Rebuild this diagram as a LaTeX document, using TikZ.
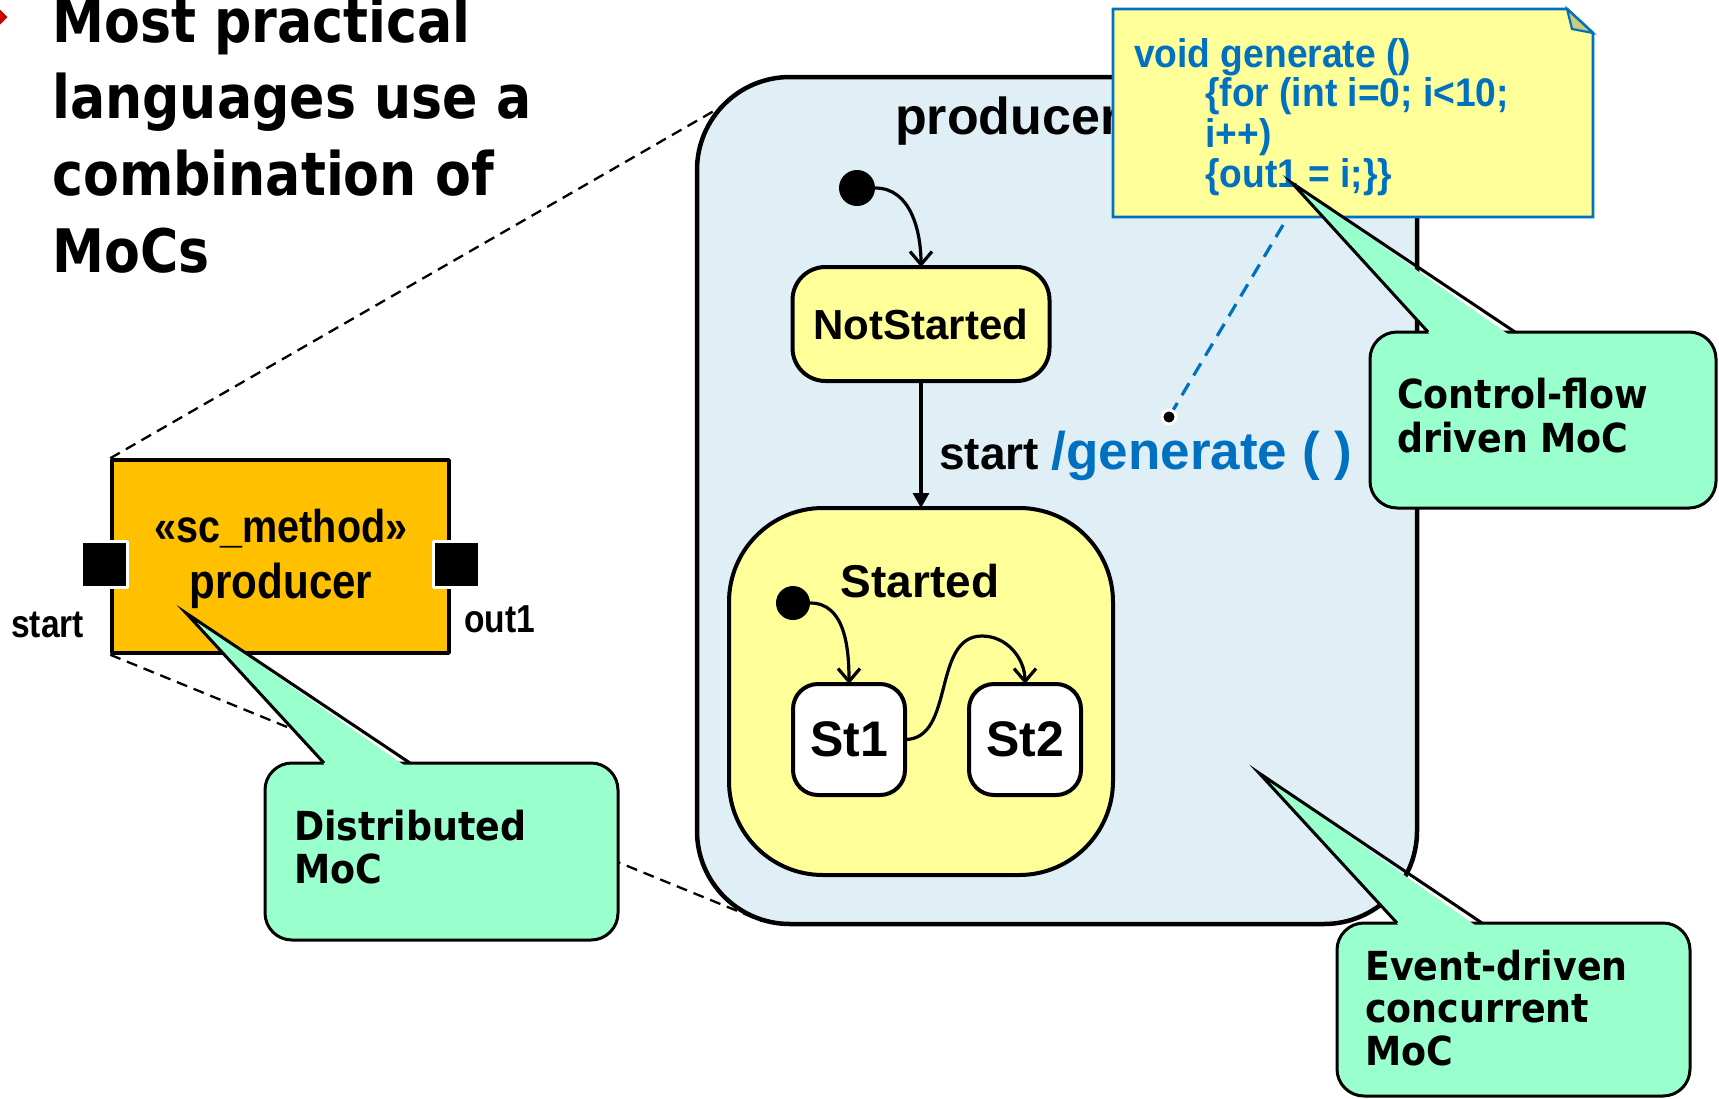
\documentclass[tikz,border=0pt]{standalone}
\usepackage{fontspec}
\setmainfont{Liberation Sans}
\newfontfamily\uifont{Liberation Sans}
\newfontfamily\uinarrow[FakeStretch=0.86]{Liberation Sans}
\newfontfamily\codefont[FakeStretch=0.93]{Liberation Sans}
\newfontfamily\handfont[FakeStretch=0.91]{DejaVu Sans}
\newfontfamily\headfont[FakeStretch=0.87]{DejaVu Sans}
\usetikzlibrary{arrows.meta}

\definecolor{boxorange}{RGB}{255,192,0}
\definecolor{pane}{RGB}{223,239,245}
\definecolor{stateyellow}{RGB}{255,255,153}
\definecolor{mint}{RGB}{153,255,204}
\definecolor{codeblue}{RGB}{0,112,192}
\definecolor{foldkhaki}{RGB}{204,204,122}
\definecolor{bulletred}{RGB}{204,0,0}

\tikzset{
  headtext/.style={anchor=base west, inner sep=0pt, font=\headfont\bfseries\fontsize{60}{72}\selectfont},
  handtext/.style={anchor=base west, inner sep=0pt, font=\handfont\bfseries\fontsize{40}{43}\selectfont},
  uitext/.style={inner sep=0pt, font=\uifont\bfseries\fontsize{#1}{#1}\selectfont},
  narrowtext/.style={inner sep=0pt, font=\uinarrow\bfseries\fontsize{#1}{#1}\selectfont},
  codetext/.style={anchor=base west, inner sep=0pt, text=codeblue, font=\codefont\bfseries\fontsize{40}{40}\selectfont},
  stbox/.style={draw=black, line width=4pt, fill=stateyellow, inner sep=0pt, outer sep=0pt},
  initdot/.style={circle, fill=black, inner sep=0pt, minimum size=#1},
  portsq/.style={fill=black, draw=white, line width=3pt, inner sep=0pt, minimum size=46pt},
  trans/.style={draw=black, line width=3.2pt},
  barb/.style={-{Straight Barb[length=13pt,width=22pt]}},
  solidtip/.style={-{Triangle[length=15pt,width=16pt]}},
  zoomline/.style={draw=black, line width=2.3pt, dash pattern=on 11pt off 7pt},
  calloutbox/.style={draw=black, line width=3pt, fill=mint, rounded corners=27pt, inner sep=0pt},
  calloutedge/.style={draw=black, line width=3pt, line join=miter},
}

\begin{document}
\begin{tikzpicture}[x=1pt, y=-1pt, line join=round]
\useasboundingbox (0,0) rectangle (1719,1098);
\clip (0,0) rectangle (1719,1098);
\fill[white] (0,0) rectangle (1719,1098);

% bullet and heading
\fill[bulletred] (-2,7.5) -- (7.5,17) -- (-2,26.5) -- (-11.5,17) -- cycle;
\node[headtext] (head1) at (52,42) {Most practical};
\node[headtext] (head2) at (52,118) {languages use a};
\node[headtext] (head3) at (52,195) {combination of};
\node[headtext] (head4) at (52,272) {MoCs};

% the sc_method block with its ports
\node[draw=black, line width=3.5pt, fill=boxorange, inner sep=0pt,
      minimum width=337pt, minimum height=193pt] (prodbox) at (280.5,556.5) {};
\node[portsq] (pstart) at (104,564) {};
\node[portsq] (pout) at (456,564) {};
\node[narrowtext=46, anchor=base] (stereo) at (281,542) {«sc\_method»};
\node[narrowtext=49, anchor=base] (prodname) at (281,598) {producer};
\node[narrowtext=39, anchor=base west] (startlbl) at (11,637) {start};
\node[narrowtext=39, anchor=base west] (outlbl) at (464,632) {out1};

% zoom lines towards the expanded view
\coordinate (zoomtop) at (733,100);
\coordinate (zoombot) at (762,921);
\draw[zoomline] (prodbox.north west) -- (zoomtop);
\draw[zoomline] (prodbox.south west) -- (zoombot);

% expanded producer state machine
\node[draw=black, line width=4.5pt, fill=pane, rounded corners=93pt, inner sep=0pt,
      minimum width=720pt, minimum height=847pt] (pane) at (1057,500.5) {};
\node[uitext=52, anchor=base west] (panetitle) at (895,134) {producer};

\node[initdot=36pt] (init1) at (857,188) {};
\node[stbox, rounded corners=33pt, minimum width=257pt, minimum height=114pt,
      uitext=42] (ns) at (921,324) {NotStarted};
\node[stbox, rounded corners=94pt, minimum width=384pt, minimum height=367pt] (started) at (921,691.5) {};
\node[uitext=46, anchor=base] (startedlbl) at (920,597) {Started};
\node[initdot=34pt] (init2) at (793,603) {};
\node[stbox, fill=white, rounded corners=25pt, minimum width=112pt, minimum height=111pt,
      uitext=50] (st1) at (849,739.5) {St1};
\node[stbox, fill=white, rounded corners=25pt, minimum width=112pt, minimum height=111pt,
      uitext=50] (st2) at (1025,739.5) {St2};

\draw[trans, barb] (init1.east) to[out=0, in=90] (ns.north);
\draw[trans, solidtip] (ns.south) -- (started.north);
\draw[trans, barb] (init2.east) to[out=0, in=90] (st1.north);
\coordinate (hop) at (982,636);
\draw[trans, barb] (st1.east) to[out=0, in=180] (hop) to[out=0, in=90] (st2.north);

\node[uitext=46, anchor=base west] (trlabel) at (939,469)
  {start {\color{codeblue}\fontsize{53}{53}\selectfont /generate ( )}};

% code note
\draw[draw=codeblue, line width=2.8pt, fill=stateyellow, line join=miter]
  (1113,9) -- (1567,9) -- (1593,33) -- (1593,217) -- (1113,217) -- cycle;
\draw[draw=codeblue, line width=2.2pt, fill=foldkhaki, line join=miter]
  (1567,9) -- (1572,29) -- (1593,33) -- cycle;
\node[codetext] (code1) at (1134,67) {void generate ()};
\node[codetext] (code2) at (1205,106) {\{for (int i=0; i<10;};
\node[codetext] (code3) at (1205,147) {i++)};
\node[codetext] (code4) at (1205,187) {\{out1 = i;\}\}};

\coordinate (notelink) at (1283,225);
\node[circle, fill=black, draw=white, line width=3pt, inner sep=0pt, minimum size=14pt] (gendot) at (1169,417) {};
\draw[codeblue, line width=3.2pt, dash pattern=on 14pt off 9pt] (notelink) -- (gendot);

% callout: distributed
\node[calloutbox, minimum width=353pt, minimum height=177pt] (calldist) at (441.5,851.5) {};
\coordinate (tipdist) at (186,613);
\fill[mint] (tipdist) -- (326,766.5) -- (406,766.5) -- cycle;
\draw[calloutedge] (324,763) -- (tipdist) -- (410,763);
\node[handtext] (dist1) at (294,840) {Distributed};
\node[handtext] (dist2) at (294,883) {MoC};

% callout: control flow
\node[calloutbox, minimum width=346pt, minimum height=176pt] (callctrl) at (1543,420) {};
\coordinate (tipctrl) at (1292,183);
\fill[mint] (tipctrl) -- (1431,335.5) -- (1510,335.5) -- cycle;
\draw[calloutedge] (1428,332) -- (tipctrl) -- (1515,332);
\node[handtext] (ctrl1) at (1397,408) {Control-flow};
\node[handtext] (ctrl2) at (1397,452) {driven MoC};

% callout: event driven
\node[calloutbox, minimum width=353pt, minimum height=173pt] (callevt) at (1513.5,1009.5) {};
\coordinate (tipevt) at (1259,773);
\fill[mint] (tipevt) -- (1400,926.5) -- (1477,926.5) -- cycle;
\draw[calloutedge] (1397,923) -- (tipevt) -- (1482,923);
\node[handtext] (evt1) at (1365,980) {Event-driven};
\node[handtext] (evt2) at (1365,1022) {concurrent};
\node[handtext] (evt3) at (1365,1065) {MoC};
\end{tikzpicture}
\end{document}
